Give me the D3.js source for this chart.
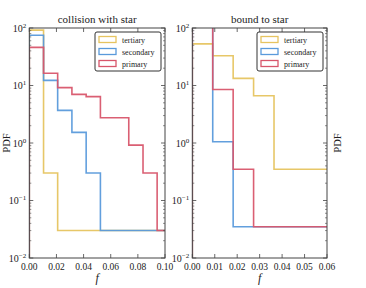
<!DOCTYPE html>
<html>
<head>
<meta charset="utf-8">
<script src="https://cdn.jsdelivr.net/npm/d3@7"></script>
<style>
  body { margin: 0; background: #fff; }
  svg text { font-family: "Liberation Serif", "DejaVu Serif", serif; fill: #222; }
</style>
</head>
<body>
<svg id="chart" width="366" height="288"></svg>
<script>
// bin edges (histogram step positions)
const collisionEdges = [0, 0.0105, 0.0209, 0.0314, 0.0419, 0.0524, 0.0628, 0.0733, 0.0838, 0.0942, 0.1047];
const collisionTertiary = [92, 0.3, 0.03, 0.03, 0.03, 0.03, 0.03, 0.03, 0.03, 0.03];
const collisionSecondary = [75, 12.3, 3.7, 1.53, 0.3, 0.03, 0.03, 0.03, 0.03, 0.03];
const collisionPrimary = [46, 16.3, 9.2, 7.0, 6.4, 2.75, 2.75, 0.92, 0.3, 0.03];

const boundEdges = [0, 0.0091, 0.0182, 0.0273, 0.0364, 0.0455, 0.0546, 0.0637];
const boundTertiary = [53, 33, 13.3, 6.65, 0.35, 0.35, 0.35];
const boundSecondary = [150, 1.05, 0.035, 0.035, 0.035, 0.035, 0.035];
const boundPrimary = [130, 8.5, 0.35, 0.035, 0.035, 0.035, 0.035];

const seriesNames = ["tertiary", "secondary", "primary"];
const seriesColors = ["#e6c460", "#5a9adb", "#d8566b"];
const collisionTicks = [0, 0.02, 0.04, 0.06, 0.08, 0.10];
const boundTicks = [0, 0.01, 0.02, 0.03, 0.04, 0.05, 0.06];
const yDecades = [-2, -1, 0, 1, 2];

const svg = d3.select("#chart");
const plotTop = 28, plotBottom = 258;

const panels = [
    { id: "a", title: "collision with star", left: 29.3, right: 165, xMax: 0.1, ticks: collisionTicks,
      edges: collisionEdges, series: [collisionTertiary, collisionSecondary, collisionPrimary],
      ylabelX: 9.5 },
    { id: "b", title: "bound to star", left: 192.3, right: 327, xMax: 0.06, ticks: boundTicks,
      edges: boundEdges, series: [boundTertiary, boundSecondary, boundPrimary],
      ylabelX: 341 }
];

panels.forEach(panel => {
    const x = d3.scaleLinear().domain([0, panel.xMax]).range([panel.left, panel.right]);
    const y = d3.scaleLog().domain([1e-2, 1e2]).range([plotBottom, plotTop]);
    const g = svg.append("g");

    g.append("clipPath").attr("id", "clip-" + panel.id)
        .append("rect")
        .attr("x", panel.left).attr("y", plotTop)
        .attr("width", panel.right - panel.left).attr("height", plotBottom - plotTop);

    // histogram steps
    const plot = g.append("g").attr("clip-path", `url(#clip-${panel.id})`);
    panel.series.forEach((values, i) => {
        const pts = [[panel.edges[0], 1e-4]];
        values.forEach((v, k) => {
            pts.push([panel.edges[k], v]);
            pts.push([panel.edges[k + 1], v]);
        });
        pts.push([panel.edges[values.length], 1e-4]);
        const line = d3.line().x(d => x(d[0])).y(d => y(d[1]));
        plot.append("path")
            .attr("d", line(pts))
            .attr("fill", "none")
            .attr("stroke", seriesColors[i])
            .attr("stroke-width", 1.6)
            .attr("stroke-opacity", 0.95);
    });

    // ticks: x major, both top and bottom, inward
    panel.ticks.forEach(t => {
        g.append("line").attr("x1", x(t)).attr("x2", x(t)).attr("y1", plotBottom).attr("y2", plotBottom - 4)
            .attr("stroke", "#444").attr("stroke-width", 0.8);
        g.append("line").attr("x1", x(t)).attr("x2", x(t)).attr("y1", plotTop).attr("y2", plotTop + 4)
            .attr("stroke", "#444").attr("stroke-width", 0.8);
        g.append("text").attr("x", x(t)).attr("y", plotBottom + 12)
            .attr("text-anchor", "middle").attr("font-size", 9.5)
            .text(d3.format(".2f")(t));
    });

    // y ticks (log), major and minor on both sides
    yDecades.forEach(k => {
        const v = Math.pow(10, k);
        [panel.left, panel.right].forEach((sx, side) => {
            const dir = side === 0 ? 1 : -1;
            g.append("line").attr("x1", sx).attr("x2", sx + dir * 4)
                .attr("y1", y(v)).attr("y2", y(v)).attr("stroke", "#444").attr("stroke-width", 0.8);
            if (k < 2) {
                for (let m = 2; m <= 9; m++) {
                    g.append("line").attr("x1", sx).attr("x2", sx + dir * 2)
                        .attr("y1", y(m * v)).attr("y2", y(m * v)).attr("stroke", "#444").attr("stroke-width", 0.6);
                }
            }
        });
        const label = g.append("text").attr("x", panel.left - 3).attr("y", y(v) + 3.5)
            .attr("text-anchor", "end").attr("font-size", 10);
        label.append("tspan").text("10");
        label.append("tspan").attr("dy", -4).attr("font-size", 7).text(k < 0 ? "\u2212" + (-k) : k);
    });

    // frame
    g.append("rect")
        .attr("x", panel.left).attr("y", plotTop)
        .attr("width", panel.right - panel.left).attr("height", plotBottom - plotTop)
        .attr("fill", "none").attr("stroke", "#444").attr("stroke-width", 1);

    // title and labels
    g.append("text").attr("x", (panel.left + panel.right) / 2).attr("y", plotTop - 5)
        .attr("text-anchor", "middle").attr("font-size", 11).text(panel.title);
    g.append("text").attr("x", (panel.left + panel.right) / 2).attr("y", 282)
        .attr("text-anchor", "middle").attr("font-size", 12).attr("font-style", "italic").text("f");
    g.append("text")
        .attr("transform", `translate(${panel.ylabelX},${(plotTop + plotBottom) / 2}) rotate(-90)`)
        .attr("text-anchor", "middle").attr("font-size", 10.5).text("PDF");

    // legend
    const lx = panel.right - 70, ly = plotTop + 4;
    const legend = g.append("g").attr("transform", `translate(${lx},${ly})`);
    legend.append("rect").attr("width", 66).attr("height", 39).attr("rx", 2)
        .attr("fill", "#fff").attr("stroke", "#333").attr("stroke-width", 1);
    seriesNames.forEach((name, i) => {
        legend.append("rect").attr("x", 4).attr("y", 4.5 + i * 12)
            .attr("width", 17).attr("height", 6)
            .attr("fill", "none").attr("stroke", seriesColors[i]).attr("stroke-width", 1.3);
        legend.append("text").attr("x", 27).attr("y", 10.5 + i * 12)
            .attr("font-size", 8).text(name);
    });
});
</script>
</body>
</html>
